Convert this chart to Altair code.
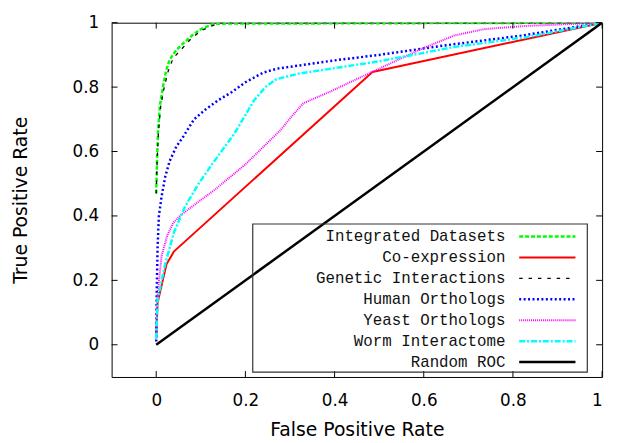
import altair as alt
import pandas as pd

# ---- data -----------------------------------------------------------------
series_names = [
    "Integrated Datasets",
    "Co-expression",
    "Genetic Interactions",
    "Human Orthologs",
    "Yeast Orthologs",
    "Worm Interactome",
    "Random ROC",
]

integrated_x = [0.0, 0.002, 0.004, 0.008, 0.015, 0.022, 0.03, 0.045, 0.06, 0.08, 0.1, 0.13, 1.0]
integrated_y = [0.47, 0.58, 0.66, 0.74, 0.80, 0.85, 0.885, 0.915, 0.935, 0.96, 0.98, 0.997, 1.0]

coexpr_x = [0.0, 0.003, 0.023, 0.04, 0.485, 1.0]
coexpr_y = [0.02, 0.13, 0.25, 0.29, 0.847, 1.0]

genetic_x = [0.0, 0.002, 0.005, 0.01, 0.018, 0.027, 0.038, 0.055, 0.078, 0.1, 0.125, 0.145, 1.0]
genetic_y = [0.47, 0.57, 0.66, 0.74, 0.80, 0.85, 0.89, 0.915, 0.95, 0.975, 0.99, 1.0, 1.0]

human_x = [0.0, 0.001, 0.003, 0.006, 0.012, 0.02, 0.03, 0.045, 0.06, 0.085, 0.11, 0.14,
           0.17, 0.2, 0.24, 0.27, 0.32, 0.4, 0.5, 0.65, 0.82, 1.0]
human_y = [0.01, 0.15, 0.3, 0.4, 0.46, 0.52, 0.57, 0.615, 0.645, 0.7, 0.73, 0.76,
           0.785, 0.815, 0.845, 0.857, 0.867, 0.883, 0.9, 0.93, 0.96, 1.0]

yeast_x = [0.0, 0.002, 0.012, 0.025, 0.038, 0.056, 0.13, 0.2, 0.277, 0.307, 0.33, 0.39,
           0.484, 0.594, 0.668, 0.735, 0.83, 1.0]
yeast_y = [0.02, 0.14, 0.276, 0.34, 0.378, 0.404, 0.48, 0.56, 0.664, 0.714, 0.75, 0.786,
           0.847, 0.918, 0.96, 0.98, 0.99, 1.0]

worm_x = [0.0, 0.003, 0.02, 0.04, 0.065, 0.095, 0.13, 0.175, 0.22, 0.245, 0.27, 0.32,
          0.5, 0.67, 0.83, 1.0]
worm_y = [0.02, 0.14, 0.25, 0.35, 0.43, 0.5, 0.57, 0.655, 0.76, 0.8, 0.825, 0.842,
          0.88, 0.925, 0.955, 1.0]

random_x = [0.0, 1.0]
random_y = [0.0, 1.0]

tick_values = [0, 0.2, 0.4, 0.6, 0.8, 1]

# ---- styles ---------------------------------------------------------------
colors = ["#00ff00", "#ff0000", "#000000", "#0000ff", "#ff00ff", "#00ffff", "#000000"]
dashes = [[4, 2], None, [3.5, 6], [2, 2.5], [1, 1], [6, 2, 2, 2], None]
widths = [2.5, 2, 1.3, 2.5, 2, 2.5, 2.5]

all_x = [integrated_x, coexpr_x, genetic_x, human_x, yeast_x, worm_x, random_x]
all_y = [integrated_y, coexpr_y, genetic_y, human_y, yeast_y, worm_y, random_y]

rows = []
for name, xs, ys in zip(series_names, all_x, all_y):
    for i, (xv, yv) in enumerate(zip(xs, ys)):
        rows.append({"series": name, "x": xv, "y": yv, "i": i})
df = pd.DataFrame(rows)

W, H = 497, 359
xscale = alt.Scale(domain=[-0.1, 1], nice=False, zero=False)
yscale = alt.Scale(domain=[-0.1, 1], nice=False, zero=False)

x_axis = alt.Axis(values=tick_values, title="False Positive Rate", labelPadding=16,
                  titlePadding=12, format="~g")
y_axis = alt.Axis(values=tick_values, title="True Positive Rate", labelPadding=13,
                  titlePadding=42, format="~g")

layers = []

# data curves
for k, name in enumerate(series_names):
    kw = dict(color=colors[k], strokeWidth=widths[k], clip=True, strokeCap="butt",
              strokeJoin="round")
    if dashes[k]:
        kw["strokeDash"] = dashes[k]
    layers.append(
        alt.Chart(df).transform_filter(alt.datum.series == name).mark_line(**kw).encode(
            x=alt.X("x:Q", scale=xscale, axis=x_axis),
            y=alt.Y("y:Q", scale=yscale, axis=y_axis),
            order="i:Q",
        )
    )

# tick marks (inward, mirrored on all four sides)
tick_df = pd.DataFrame({"x": tick_values, "y": tick_values})
tick_x = alt.X("x:Q", scale=xscale, axis=x_axis)
tick_y = alt.Y("y:Q", scale=yscale, axis=y_axis)
layers.append(alt.Chart(tick_df).mark_rule(color="black", strokeWidth=1).encode(
    x=tick_x, y=alt.value(H), y2=alt.value(H - 6)))
layers.append(alt.Chart(tick_df).mark_rule(color="black", strokeWidth=1).encode(
    x=tick_x, y=alt.value(0), y2=alt.value(6)))
layers.append(alt.Chart(tick_df).mark_rule(color="black", strokeWidth=1).encode(
    y=tick_y, x=alt.value(0), x2=alt.value(6)))
layers.append(alt.Chart(tick_df).mark_rule(color="black", strokeWidth=1).encode(
    y=tick_y, x=alt.value(W - 6), x2=alt.value(W)))

# legend box
layers.append(alt.Chart(pd.DataFrame({"k": [0]})).mark_rect(
    filled=False, stroke="#333333", strokeWidth=1.2).encode(
    x=alt.value(143), x2=alt.value(482), y=alt.value(204), y2=alt.value(354)))

# legend entries (gnuplot style: label right-aligned, sample on the right)
for k, name in enumerate(series_names):
    yp = 216.7 + 21.2 * k
    ldf = pd.DataFrame({"label": [name]})
    layers.append(alt.Chart(ldf).mark_text(
        align="right", baseline="middle", font="Liberation Mono", fontSize=16,
        color="#111111").encode(x=alt.value(399), y=alt.value(yp), text="label:N"))
    kw = dict(color=colors[k], strokeWidth=widths[k], strokeCap="butt")
    if dashes[k]:
        kw["strokeDash"] = dashes[k]
    layers.append(alt.Chart(ldf).mark_rule(**kw).encode(
        x=alt.value(413), x2=alt.value(470), y=alt.value(yp)))

chart = alt.layer(*layers).properties(
    width=W,
    height=H,
    padding={"left": 105, "top": 12, "right": 8, "bottom": 64},
    autosize=alt.AutoSizeParams(type="none"),
).configure_view(
    stroke="black", strokeWidth=1
).configure_axis(
    ticks=False, domain=False, grid=False,
    labelFont="DejaVu Sans", labelFontSize=17, labelColor="black",
    titleFont="DejaVu Sans", titleFontSize=19, titleFontWeight="normal", titleColor="black",
)

chart.save("out.html", embed_options={"renderer": "svg", "actions": False})
